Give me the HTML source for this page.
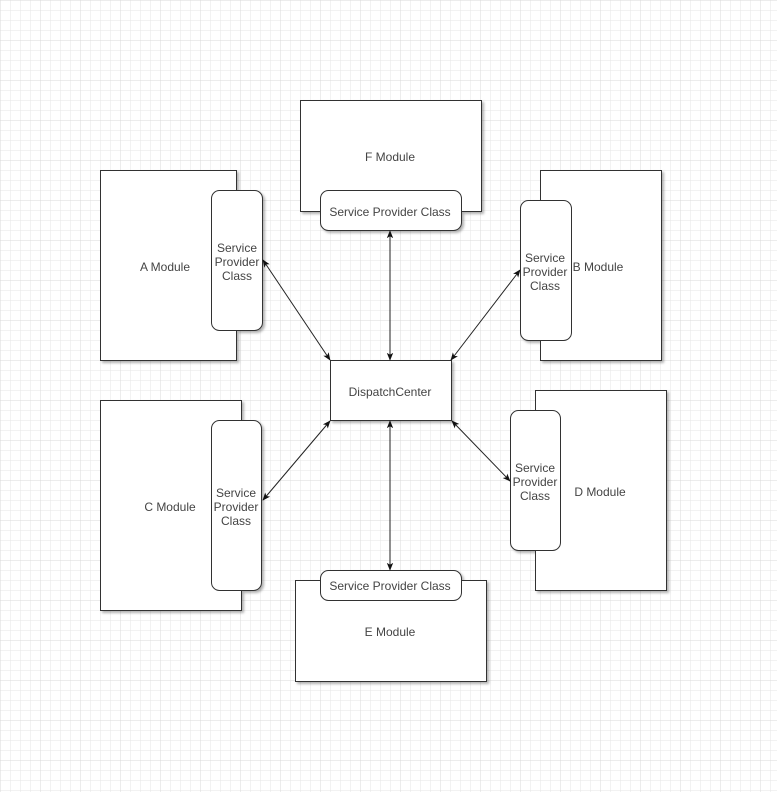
<!DOCTYPE html>
<html><head><style>
body{margin:0;width:777px;height:792px;overflow:hidden;background:#fff;}
svg{display:block}
text{font-family:"Liberation Sans",sans-serif;font-size:12px;fill:#444;text-anchor:middle;}
</style></head><body>
<svg width="777" height="792" xmlns="http://www.w3.org/2000/svg">
<defs>
<pattern id="g" width="10" height="10" patternUnits="userSpaceOnUse">
<path d="M10 0H0V10" fill="none" stroke="#e6e6e6" stroke-width="1"/>
</pattern>
<pattern id="G" width="40" height="40" patternUnits="userSpaceOnUse" x="0" y="0">
<rect width="40" height="40" fill="url(#g)"/>
<path d="M40 0H0V40" fill="none" stroke="#d9d9d9" stroke-width="1"/>
</pattern>
<filter id="s" x="-10%" y="-10%" width="130%" height="130%"><feDropShadow dx="2" dy="2" stdDeviation="1.2" flood-color="#000" flood-opacity="0.3"/></filter>
<marker id="a" viewBox="0 0 10 10" refX="9" refY="5" markerWidth="8" markerHeight="8" orient="auto-start-reverse"><path d="M0 1L10 5L0 9L2.5 5z" fill="#111"/></marker>
</defs>
<rect width="777" height="792" fill="url(#G)"/>
<g fill="#fff" stroke="#333" stroke-width="1" filter="url(#s)">
<rect x="100.5" y="170.5" width="136" height="190"/>
<rect x="300.5" y="100.5" width="181" height="111"/>
<rect x="540.5" y="170.5" width="121" height="190"/>
<rect x="100.5" y="400.5" width="141" height="210"/>
<rect x="535.5" y="390.5" width="131" height="200"/>
<rect x="295.5" y="580.5" width="191" height="101"/>
<rect x="330.5" y="360.5" width="121" height="60"/>
<rect x="211.5" y="190.5" width="51" height="140" rx="8"/>
<rect x="320.5" y="190.5" width="141" height="40" rx="8"/>
<rect x="520.5" y="200.5" width="51" height="140" rx="8"/>
<rect x="211.5" y="420.5" width="50" height="170" rx="8"/>
<rect x="510.5" y="410.5" width="50" height="140" rx="8"/>
<rect x="320.5" y="570.5" width="141" height="30" rx="8"/>
</g>
<g stroke="#222" stroke-width="1" marker-start="url(#a)" marker-end="url(#a)">
<line x1="263" y1="260" x2="330" y2="360"/>
<line x1="390" y1="231" x2="390" y2="360"/>
<line x1="520" y1="270" x2="451" y2="360"/>
<line x1="263" y1="500" x2="330" y2="421"/>
<line x1="390" y1="570" x2="390" y2="421"/>
<line x1="452" y1="421" x2="510" y2="481"/>
</g>
<text x="165" y="271">A Module</text>
<text x="390" y="161">F Module</text>
<text x="598" y="271">B Module</text>
<text x="170" y="511">C Module</text>
<text x="600" y="496">D Module</text>
<text x="390" y="636">E Module</text>
<text x="390" y="396">DispatchCenter</text>
<text x="237" y="252">Service</text><text x="237" y="266">Provider</text><text x="237" y="280">Class</text>
<text x="390" y="216">Service Provider Class</text>
<text x="545" y="262">Service</text><text x="545" y="276">Provider</text><text x="545" y="290">Class</text>
<text x="236" y="497">Service</text><text x="236" y="511">Provider</text><text x="236" y="525">Class</text>
<text x="535" y="472">Service</text><text x="535" y="486">Provider</text><text x="535" y="500">Class</text>
<text x="390" y="590">Service Provider Class</text>
</svg>
</body></html>
